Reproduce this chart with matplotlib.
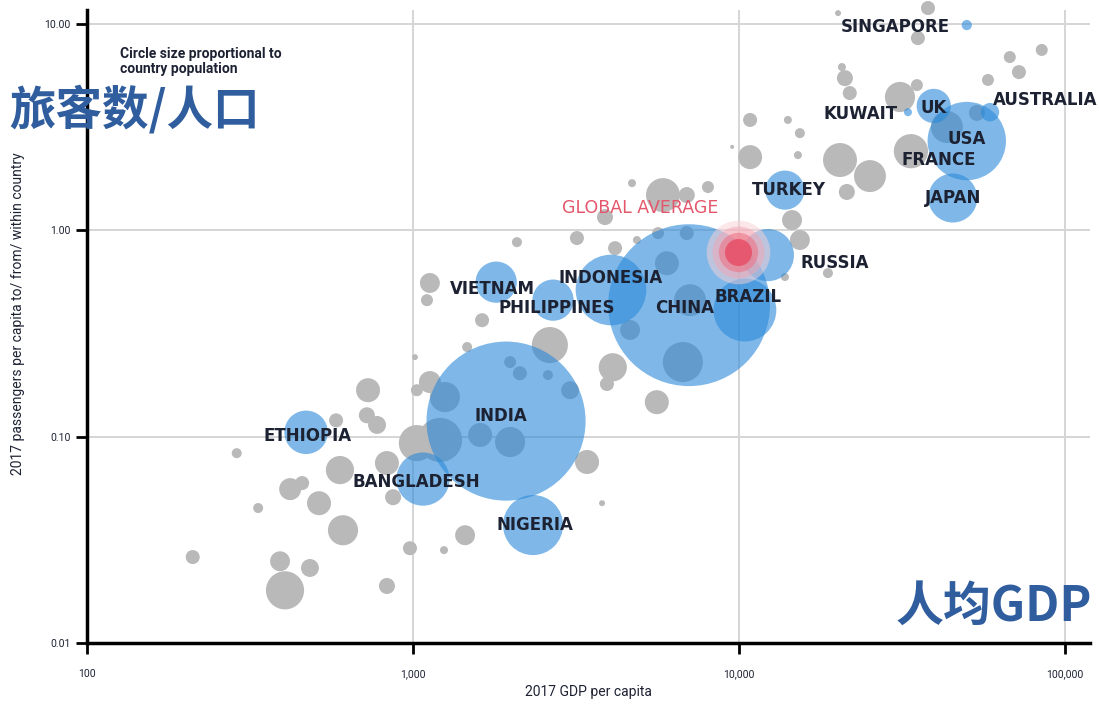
import numpy as np
import matplotlib
matplotlib.use("Agg")
import matplotlib.pyplot as plt
from matplotlib.ticker import FixedLocator, NullLocator

# highlighted countries: GDP per capita, passengers per capita, population (millions)
countries = ["CHINA", "INDIA", "INDONESIA", "BRAZIL", "RUSSIA", "NIGERIA", "BANGLADESH",
             "JAPAN", "PHILIPPINES", "ETHIOPIA", "VIETNAM", "TURKEY", "USA", "UK",
             "AUSTRALIA", "KUWAIT", "SINGAPORE"]
c_gdp = [7030, 1930, 4050, 10430, 12270, 2335, 1073,
         45300, 2690, 470, 1800, 13840, 50000, 39600,
         58900, 33000, 50000]
c_pax = [0.434, 0.119, 0.514, 0.411, 0.759, 0.0373, 0.0623,
         1.435, 0.459, 0.105, 0.561, 1.567, 2.71, 4.01,
         3.74, 3.74, 9.89]
c_pop = [1386, 1339, 264, 209, 144, 191, 150,
         127, 90, 100, 90, 81, 325, 62,
         18, 3.4, 5.6]

# label offsets in pixels (dx right, dy up) from the bubble centre
lab_dx = [-4, -5, 0, 3, 67, 2, -7, 0, 4, 1, -4, 4, 0, 0, 55, -47, -71]
lab_dy = [-3, 5, 12, 13, -8, 0, -3, 0, -8, -4, -7, 0, 2, -2, 12, -2, -2]

# other countries (grey)
g_gdp = [288, 420, 457, 515, 335, 211, 391, 483, 405, 597, 610, 728, 581, 722, 776, 832,
         869, 979, 1245, 1445, 832, 1028, 1127, 1028, 1127, 1104, 1629, 1014, 1466, 2084,
         3184, 2630, 4102, 3936, 5598, 3420, 3802, 4699, 5848, 6918, 8035, 3882, 4169, 4864,
         10820, 15170, 20420, 25230, 21430, 14550, 15380, 18750, 13840, 10820, 14130, 15380,
         9530, 38020, 35400, 20140, 20700, 21140, 21880, 31190, 35160, 67760, 84920, 72280,
         58070, 43450, 53700, 33700,
         1253, 1211, 1607, 1986, 1986, 2128, 2594, 3034,
         6012, 6918, 7079, 6730, 4634, 5649]
g_pax = [0.0832, 0.0557, 0.0596, 0.0476, 0.0451, 0.0261, 0.0249, 0.0231, 0.0180, 0.0689,
         0.0352, 0.168, 0.120, 0.127, 0.114, 0.0745, 0.0509, 0.0288, 0.0282, 0.0333, 0.0189,
         0.168, 0.184, 0.0931, 0.556, 0.459, 0.367, 0.243, 0.272, 0.877, 0.918, 0.278, 0.217,
         0.180, 0.147, 0.0754, 0.0476, 1.694, 1.483, 1.483, 1.622, 1.16, 0.820, 0.898,
         2.265, 2.317, 2.193, 1.833, 1.535, 1.122, 0.898, 0.621, 0.594, 3.43, 3.43, 2.96,
         2.54, 11.96, 8.55, 11.3, 6.19, 5.47, 4.63, 4.43, 5.06, 6.92, 7.49, 5.85,
         5.36, 3.17, 3.71, 2.42,
         0.1556, 0.0964, 0.1019, 0.0942, 0.230, 0.203, 0.199, 0.168,
         0.693, 0.970, 0.459, 0.230, 0.329, 0.970]
g_pop = [5.3, 25.6, 10.4, 30.5, 5.3, 10.4, 21, 17, 77, 42, 48, 30.5, 10.4, 13.6, 17, 30.5,
         13.6, 10.4, 3.4, 21, 13.6, 7.6, 25.6, 69, 21, 7.6, 10.4, 1.9, 5.3, 5.3,
         10.4, 69, 42, 10.4, 30.5, 30.5, 1.9, 3.4, 61, 13.6, 7.6, 13.6, 10.4, 3.4,
         30.5, 3.4, 61, 54, 13.6, 21, 21, 5.3, 3.4, 10.4, 3.4, 5.3,
         0.85, 10.4, 10.4, 1.9, 3.4, 13.6, 10.4, 48, 7.6, 7.6, 7.6, 10.4,
         7.6, 54, 13.6, 62,
         48, 103, 30.5, 48, 7.6, 10.4, 5.3, 17,
         30.5, 10.4, 54, 85, 21, 7.6]

global_gdp = 9930
global_pax = 0.785

x_ticks = [100, 1000, 10000, 100000]
x_tick_labels = ["100", "1,000", "10,000", "100,000"]
y_ticks = [0.01, 0.1, 1, 10]
y_tick_labels = ["0.01", "0.10", "1.00", "10.00"]

SIZE_PER_MILLION = 9.8  # marker area (pt^2) per million people

navy = "#1d2233"
blue = "#2a8ad9"
grey = "#b9b9b9"

fig = plt.figure(figsize=(10.99, 7.04), dpi=100)
ax = fig.add_axes([87 / 1099, 1 - 643 / 704, (1090 - 87) / 1099, (643 - 10) / 704])
ax.set_xscale("log")
ax.set_yscale("log")
ax.set_xlim(100, 119400)
ax.set_ylim(0.01, 11.7)

ax.scatter(g_gdp, g_pax, s=np.array(g_pop) * SIZE_PER_MILLION, color=grey,
           linewidths=0, zorder=2, clip_on=False)

order = np.argsort(c_pop)[::-1]
ax.scatter(np.array(c_gdp)[order], np.array(c_pax)[order],
           s=np.array(c_pop)[order] * SIZE_PER_MILLION, color=blue, alpha=0.6,
           linewidths=0, zorder=3)

# global average glow
for s, col, a in [(2100, "#f9d0d6", 0.5), (1400, "#f3a5b1", 0.5),
                  (800, "#ee7588", 0.6), (380, "#e8475f", 0.75)]:
    ax.scatter([global_gdp], [global_pax], s=s, color=col, alpha=a, linewidths=0, zorder=4)

lab_font = dict(ha="center", va="center", fontsize=12, fontweight="bold",
                family="DejaVu Sans", color=navy, zorder=6)
for name, x, y, dx, dy in zip(countries, c_gdp, c_pax, lab_dx, lab_dy):
    ax.annotate(name, (x, y), xytext=(dx * 0.72, dy * 0.72), textcoords="offset points",
                **lab_font)
ax.annotate("FRANCE", (33700, 2.42), xytext=(28 * 0.72, -9 * 0.72),
            textcoords="offset points", **lab_font)
ax.annotate("GLOBAL AVERAGE", (global_gdp, global_pax), xytext=(-98 * 0.72, 44 * 0.72),
            textcoords="offset points", ha="center", va="center", fontsize=12.5,
            family="DejaVu Sans", color="#e4566b", zorder=6)

ax.xaxis.set_major_locator(FixedLocator(x_ticks))
ax.xaxis.set_minor_locator(NullLocator())
ax.yaxis.set_major_locator(FixedLocator(y_ticks))
ax.yaxis.set_minor_locator(NullLocator())
ax.set_xticklabels(x_tick_labels, fontsize=7.5, color=navy, family="Roboto")
ax.set_yticklabels(y_tick_labels, fontsize=7.5, color=navy, family="Roboto")
ax.tick_params(axis="x", length=8, width=2, pad=11)
ax.tick_params(axis="y", length=8, width=2, pad=4)
ax.grid(True, color="#d5d5d5", linewidth=1.4, zorder=0)
ax.set_axisbelow(True)
for side in ["top", "right"]:
    ax.spines[side].set_visible(False)
for side in ["left", "bottom"]:
    ax.spines[side].set_linewidth(2.5)
    ax.spines[side].set_zorder(7)

ax.set_xlabel("2017 GDP per capita", fontsize=10, color=navy, family="Roboto", labelpad=4)
ax.set_ylabel("2017 passengers per capita to/ from/ within country", fontsize=10,
              color=navy, family="Roboto", labelpad=14)
ax.yaxis.label.set_y(0.52)

fig.text(120 / 1099, 1 - 47 / 704, "Circle size proportional to\ncountry population",
         fontsize=10, fontweight="bold", color=navy, family="Roboto",
         ha="left", va="top", linespacing=1.05)

cjk = ["Noto Sans CJK SC", "DejaVu Sans"]
fig.text(135 / 1099, 1 - 110 / 704, "旅客数/人口", fontsize=33.5, fontweight="bold",
         color="#2f5d9e", family=cjk, ha="center", va="center")
fig.text(994 / 1099, 1 - 606 / 704, "人均GDP", fontsize=34.5, fontweight="bold",
         color="#2f5d9e", family=cjk, ha="center", va="center")

fig.savefig("out.png", dpi=100)
